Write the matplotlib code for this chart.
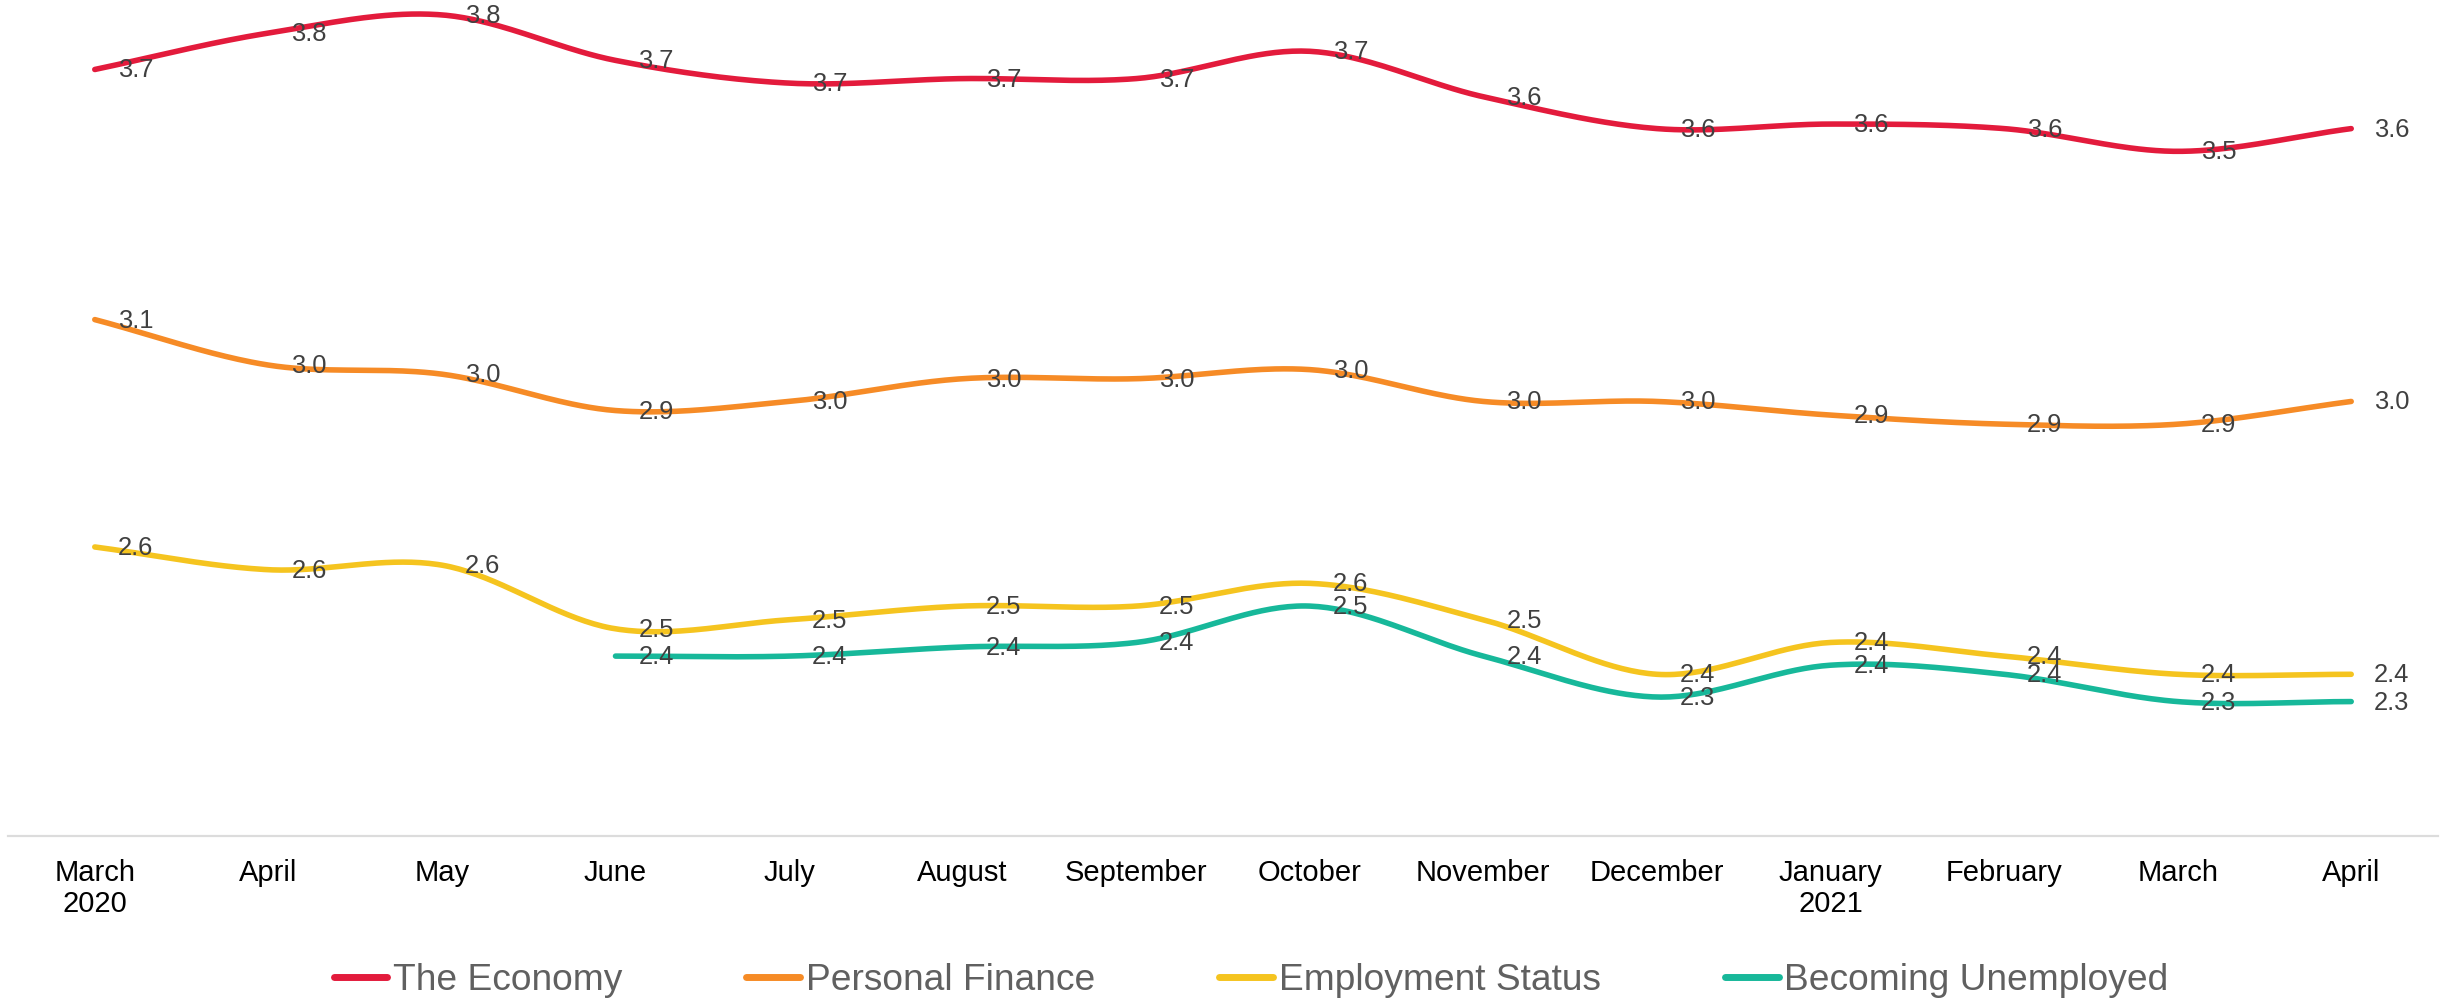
import numpy as np
import matplotlib
matplotlib.use("Agg")
import matplotlib.pyplot as plt

# Monthly index scores per topic
months = ["March\n2020", "April", "May", "June", "July", "August", "September",
          "October", "November", "December", "January\n2021", "February", "March", "April"]

economy = [3.69, 3.77, 3.81, 3.71, 3.66, 3.67, 3.67, 3.73, 3.63, 3.56, 3.57, 3.56, 3.51, 3.56]
personal_finance = [3.14, 3.04, 3.02, 2.94, 2.96, 3.01, 3.01, 3.03, 2.96, 2.96, 2.93, 2.91, 2.91, 2.96]
employment_status = [2.64, 2.59, 2.60, 2.46, 2.48, 2.51, 2.51, 2.56, 2.48, 2.36, 2.43, 2.40, 2.36, 2.36]
becoming_unemployed = [np.nan, np.nan, np.nan, 2.40, 2.40, 2.42, 2.43, 2.51, 2.40, 2.31, 2.38, 2.36, 2.30, 2.30]

series_names = ["The Economy", "Personal Finance", "Employment Status", "Becoming Unemployed"]
series_values = [economy, personal_finance, employment_status, becoming_unemployed]
series_colors = ["#E31B3C", "#F68B26", "#F5C41F", "#17B89A"]

plt.rcParams["font.family"] = ["Liberation Sans", "DejaVu Sans"]


def smooth_curve(x, y, steps=40):
    """Cubic Hermite (Catmull-Rom style) curve through the given points."""
    x = np.asarray(x, float)
    y = np.asarray(y, float)
    m = np.gradient(y, x)
    xs, ys = [], []
    for i in range(len(x) - 1):
        h = x[i + 1] - x[i]
        t = np.linspace(0, 1, steps, endpoint=(i == len(x) - 2))
        h00 = 2 * t**3 - 3 * t**2 + 1
        h10 = t**3 - 2 * t**2 + t
        h01 = -2 * t**3 + 3 * t**2
        h11 = t**3 - t**2
        xs.append(x[i] + t * h)
        ys.append(h00 * y[i] + h10 * h * m[i] + h01 * y[i + 1] + h11 * h * m[i + 1])
    return np.concatenate(xs), np.concatenate(ys)


fig = plt.figure(figsize=(24.48, 10.04), dpi=100)
ax = fig.add_axes([8 / 2448, 0.1666, 2430 / 2448, 0.8334])

positions = np.arange(len(months))
for name, vals, color in zip(series_names, series_values, series_colors):
    vals = np.asarray(vals, float)
    ok = ~np.isnan(vals)
    cx, cy = smooth_curve(positions[ok], vals[ok])
    ax.plot(cx, cy, color=color, lw=4.0, solid_capstyle="round", label=name, clip_on=False)
    for xp, v in zip(positions[ok], vals[ok]):
        ax.annotate(f"{v:.1f}", xy=(xp, v), xytext=(16.5, 0), textcoords="offset points",
                    ha="left", va="center", fontsize=18.4, color="#404040")

ax.set_xlim(-0.5, len(months) - 0.5)
ax.set_ylim(2.005, 3.845)
ax.set_xticks(positions)
ax.set_xticklabels(months, fontsize=21, color="#000000", linespacing=1.15)
ax.tick_params(axis="x", length=0, pad=16)
ax.set_yticks([])
for s in ["top", "left", "right"]:
    ax.spines[s].set_visible(False)
ax.spines["bottom"].set_color("#DCDCDC")
ax.spines["bottom"].set_linewidth(1.6)

handles, labels = ax.get_legend_handles_labels()
leg = fig.legend(handles, labels, loc="center", bbox_to_anchor=(1251 / 2448, 1 - 981 / 1004),
                 ncol=4, frameon=False, fontsize=26.7, handlelength=1.45, handletextpad=0.15,
                 columnspacing=3.35, borderpad=0)
for t in leg.get_texts():
    t.set_color("#606060")
for lh in leg.get_lines():
    lh.set_linewidth(5)

fig.savefig("out.png", dpi=100, facecolor="white")
